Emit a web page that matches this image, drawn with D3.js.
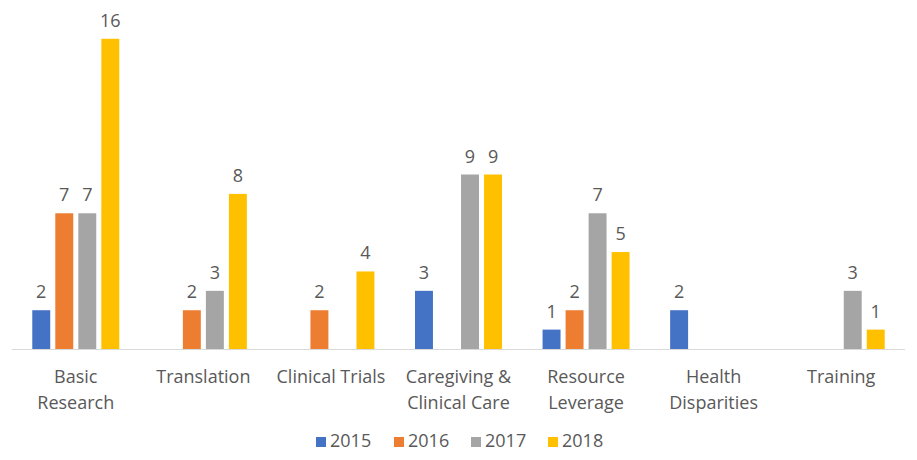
<!DOCTYPE html>
<html>
<head>
<meta charset="utf-8">
<script src="https://cdn.jsdelivr.net/npm/d3@7"></script>
<style>
  body { margin: 0; background: #fff; }
  text { font-family: "Open Sans", sans-serif; fill: #595959; }
</style>
</head>
<body>
<svg></svg>
<script>
let categories = ["Basic Research", "Translation", "Clinical Trials", "Caregiving & Clinical Care", "Resource Leverage", "Health Disparities", "Training"];
let labelLines = [["Basic", "Research"], ["Translation"], ["Clinical Trials"], ["Caregiving &", "Clinical Care"], ["Resource", "Leverage"], ["Health", "Disparities"], ["Training"]];
let years = ["2015", "2016", "2017", "2018"];
let values2015 = [2, 0, 0, 3, 1, 2, 0];
let values2016 = [7, 2, 2, 0, 2, 0, 0];
let values2017 = [7, 3, 0, 9, 7, 0, 3];
let values2018 = [16, 8, 4, 9, 5, 0, 1];
let colors = ["#4472C4", "#ED7D31", "#A5A5A5", "#FFC000"];

let width = 917;
let height = 460;
let baseY = 349;

const series = [values2015, values2016, values2017, values2018];
const rows = categories.map((c, i) => ({
  cat: c,
  lines: labelLines[i],
  vals: series.map((s, j) => ({ year: years[j], value: s[i], k: j }))
}));

const svg = d3.select("svg")
  .attr("width", width)
  .attr("height", height);

//scales
const x0 = d3.scaleBand()
  .domain(categories)
  .range([12, 905]);
const x1 = d3.scaleBand()
  .domain(years)
  .range([0, 87])
  .paddingInner(0.22);
const y = d3.scaleLinear()
  .domain([0, 18])
  .range([baseY, 0]);

const groupOffset = (x0.bandwidth() - 87) / 2;

//bars
const groups = svg.selectAll("g.group")
  .data(rows)
  .enter()
  .append("g")
  .attr("class", "group")
  .attr("transform", (d) => `translate(${x0(d.cat) + groupOffset}, 0)`);

groups.selectAll("rect")
  .data((d) => d.vals.filter((v) => v.value > 0))
  .enter()
  .append("rect")
  .attr("x", (d) => x1(d.year))
  .attr("y", (d) => y(d.value))
  .attr("width", x1.bandwidth())
  .attr("height", (d) => baseY - y(d.value))
  .attr("fill", (d) => colors[d.k]);

groups.selectAll("text.val")
  .data((d) => d.vals.filter((v) => v.value > 0))
  .enter()
  .append("text")
  .attr("class", "val")
  .attr("x", (d) => x1(d.year) + x1.bandwidth() / 2)
  .attr("y", (d) => y(d.value) - 12)
  .attr("text-anchor", "middle")
  .attr("font-size", 18)
  .text((d) => d.value);

//axis line
svg.append("line")
  .attr("x1", x0.range()[0])
  .attr("x2", x0.range()[1])
  .attr("y1", baseY + 0.5)
  .attr("y2", baseY + 0.5)
  .attr("stroke", "#D9D9D9")
  .attr("stroke-width", 1);

//category labels
const catText = svg.selectAll("text.cat")
  .data(rows)
  .enter()
  .append("text")
  .attr("class", "cat")
  .attr("text-anchor", "middle")
  .attr("font-size", 18);
catText.selectAll("tspan")
  .data((d) => d.lines.map((l) => ({ l: l, x: x0(d.cat) + x0.bandwidth() / 2 })))
  .enter()
  .append("tspan")
  .attr("x", (d) => d.x)
  .attr("y", (d, i) => 383 + i * 26)
  .text((d) => d.l);

//legend
const legendX = [316, 394, 471, 548];
const legend = svg.selectAll("g.legend")
  .data(years)
  .enter()
  .append("g")
  .attr("class", "legend")
  .attr("transform", (d, i) => `translate(${legendX[i]}, 437)`);
legend.append("rect")
  .attr("width", 10)
  .attr("height", 10)
  .attr("fill", (d, i) => colors[i]);
legend.append("text")
  .attr("x", 14)
  .attr("y", 10)
  .attr("font-size", 18)
  .text((d) => d);
</script>
</body>
</html>
